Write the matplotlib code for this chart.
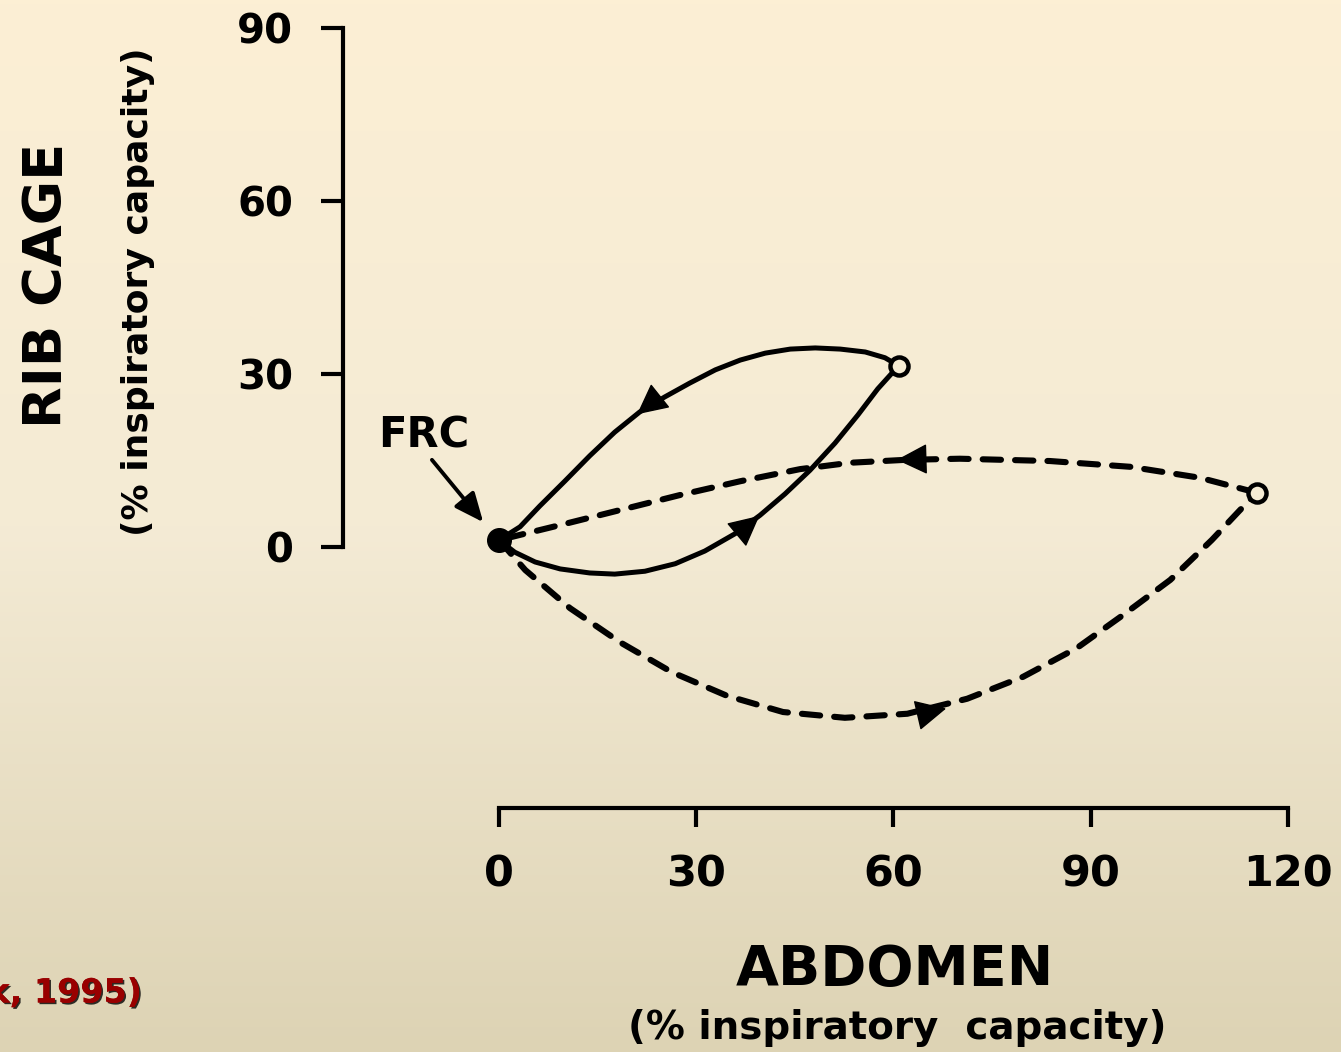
import matplotlib
matplotlib.use("Agg")
import matplotlib.pyplot as plt
import matplotlib.patheffects as pe
import numpy as np

# readings, x = abdomen, y = rib cage (% inspiratory capacity)
frc = (0.0, 1.2)
end_quiet = (60.8, 31.4)
end_deep = (115.3, 9.4)

solid_in_x = [0.0, 2.4, 5.5, 9.3, 13.8, 17.6, 22.2, 26.8, 31.3, 35.9, 39.7, 43.5, 47.3, 51.1, 54.6, 57.6, 59.9, 60.8]
solid_in_y = [1.2, -0.9, -2.6, -3.8, -4.5, -4.7, -4.2, -2.9, -0.7, 2.3, 5.5, 9.2, 13.3, 18.0, 22.9, 27.4, 30.3, 31.4]

solid_out_x = [60.8, 58.7, 55.7, 51.9, 48.1, 44.3, 40.5, 36.7, 32.9, 29.0, 25.2, 21.4, 17.6, 13.8, 10.0, 6.2, 3.2, 0.0]
solid_out_y = [31.4, 32.8, 33.8, 34.3, 34.5, 34.3, 33.6, 32.4, 30.7, 28.4, 26.0, 23.4, 19.9, 15.8, 11.4, 7.1, 3.5, 1.2]

dash_in_x = [0.0, 4.0, 10.8, 18.4, 26.3, 34.7, 43.2, 52.6, 62.1, 71.2, 79.7, 87.9, 94.9, 102.1, 108.4, 112.7, 115.3]
dash_in_y = [1.2, -4.0, -10.6, -16.5, -21.7, -25.8, -28.6, -29.6, -28.9, -26.3, -22.5, -17.5, -11.8, -5.7, 1.2, 6.4, 9.4]

dash_out_x = [115.3, 106.6, 96.0, 83.8, 70.1, 61.7, 53.4, 45.8, 36.7, 27.5, 18.4, 9.3, 3.2, 0.0]
dash_out_y = [9.4, 12.0, 13.9, 14.9, 15.3, 15.1, 14.6, 13.5, 11.4, 9.0, 6.4, 3.8, 2.1, 1.2]

# arrow heads: (tip, tail)
arrows = [((21.0, 23.0), (23.2, 25.0)),
          ((39.6, 5.4), (37.6, 3.5)),
          ((60.5, 15.1), (63.5, 15.2)),
          ((68.0, -28.0), (65.0, -28.8))]

xticks = [0, 30, 60, 90, 120]
yticks = [0, 30, 60, 90]

W, H = 1341, 1052
fig = plt.figure(figsize=(W / 100, H / 100), dpi=100)
ax = fig.add_axes([0, 0, 1, 1])

# pixel -> data mapping of the original
x0, sx = 499, 6.575
y0, sy = 547, 5.77
xlim = (-x0 / sx, (W - x0) / sx)
ylim = ((y0 - H) / sy, y0 / sy)

# background gradient
top = np.array([252, 239, 212]) / 255
mid = np.array([244, 235, 213]) / 255
bot = np.array([221, 211, 180]) / 255
t = np.linspace(0, 1, 256)[:, None]
grad = np.where(t < 0.5, top + (mid - top) * (t / 0.5), mid + (bot - mid) * ((t - 0.5) / 0.5))
ax.imshow(grad[:, None, :], extent=(xlim[0], xlim[1], ylim[0], ylim[1]), aspect='auto', zorder=0)

ax.set_xlim(xlim)
ax.set_ylim(ylim)
ax.set_facecolor('none')

ax.plot(solid_in_x, solid_in_y, color='black', lw=3.6, solid_joinstyle='round', zorder=3)
ax.plot(solid_out_x, solid_out_y, color='black', lw=3.6, solid_joinstyle='round', zorder=3)
ax.plot(dash_in_x, dash_in_y, color='black', lw=4.4, linestyle=(0, (3.0, 2.3)),
        dash_capstyle='round', zorder=3)
ax.plot(dash_out_x, dash_out_y, color='black', lw=4.4, linestyle=(0, (3.0, 2.3)),
        dash_capstyle='round', zorder=3)

for tip, tail in arrows:
    ax.annotate('', xy=tip, xytext=tail,
                arrowprops=dict(arrowstyle='-|>,head_length=0.9,head_width=0.45',
                                color='black', lw=1, shrinkA=0, shrinkB=0,
                                mutation_scale=22), zorder=4)

bg = (246, 236, 212)
ax.plot(*end_quiet, 'o', ms=13, mfc=np.array(bg) / 255, mec='black', mew=3.2, zorder=5)
ax.plot(*end_deep, 'o', ms=13, mfc=np.array(bg) / 255, mec='black', mew=3.2, zorder=5)
ax.plot(*frc, 'o', ms=17, color='black', zorder=5)

ax.text(-11.4, 19.4, 'FRC', fontsize=30, fontweight='bold', ha='center', va='center')
ax.annotate('', xy=(-2.4, 4.3), xytext=(-10.2, 15.1),
            arrowprops=dict(arrowstyle='-|>,head_length=0.8,head_width=0.35',
                            color='black', lw=2.8, shrinkA=0, shrinkB=0, mutation_scale=22))

# axes spines
for s in ['top', 'right']:
    ax.spines[s].set_visible(False)
ax.spines['left'].set_position(('data', (343 - x0) / sx))
ax.spines['left'].set_bounds(0, 90)
ax.spines['bottom'].set_position(('data', (y0 - 808) / sy))
ax.spines['bottom'].set_bounds(0, 120)
for s in ['left', 'bottom']:
    ax.spines[s].set_linewidth(3)
    ax.spines[s].set_zorder(3)

ax.set_xticks(xticks)
ax.set_yticks(yticks)
ax.tick_params(axis='x', direction='out', length=14, width=3, pad=19, labelsize=31)
ax.tick_params(axis='y', direction='out', length=16, width=3, pad=20, labelsize=29)
for lab in ax.get_xticklabels() + ax.get_yticklabels():
    lab.set_fontweight('bold')

ax.text(-68.7, 45.4, 'RIB CAGE', rotation=90, fontsize=39, fontweight='bold',
        ha='center', va='center')
ax.text(-54.9, 44.2, '(% inspiratory capacity)', rotation=90, fontsize=26,
        fontweight='bold', ha='center', va='center')
ax.text(60.2, -73.3, 'ABDOMEN', fontsize=40, fontweight='bold', ha='center', va='center')
ax.text(60.5, -83.4, '(% inspiratory  capacity)', fontsize=28, fontweight='bold',
        ha='center', va='center')

# citation is cut at the left edge, as on the slide
fig.text(142 / W, 1 - 993 / H, 'k, 1995)', fontsize=24, fontweight='bold', color='#990000',
         ha='right', va='center',
         path_effects=[pe.withSimplePatchShadow(offset=(1.2, -1.2), shadow_rgbFace='black', alpha=0.8),
                       pe.Normal()])

fig.savefig('out.png', dpi=100)
